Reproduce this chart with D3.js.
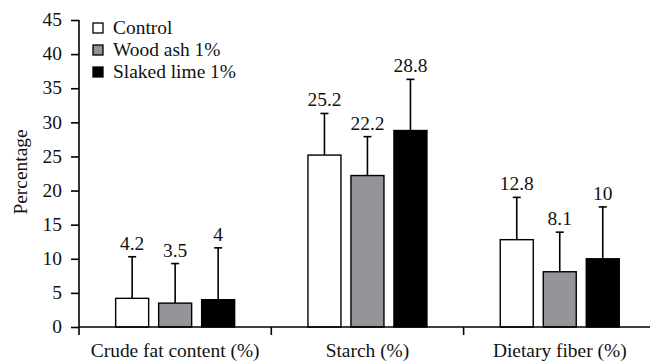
<!DOCTYPE html>
<head>
  <meta charset="utf-8">
  <script src="https://d3js.org/d3.v7.min.js"></script>
  <style>
    body { margin:0; background:#fff; }
  </style>
</head>
<body>
<script>
// values
const categories = ["Crude fat content (%)", "Starch (%)", "Dietary fiber (%)"];
const seriesNames = ["Control", "Wood ash 1%", "Slaked lime 1%"];
const control = [4.2, 25.2, 12.8];
const woodAsh = [3.5, 22.2, 8.1];
const slakedLime = [4, 28.8, 10];
// upper error bars (SD)
const controlErr = [6.1, 6.1, 6.2];
const woodAshErr = [5.8, 5.7, 5.8];
const slakedLimeErr = [7.6, 7.5, 7.6];
const yTicks = [0, 5, 10, 15, 20, 25, 30, 35, 40, 45];

const colors = ["#ffffff", "#939598", "#000000"];
const vals = [control, woodAsh, slakedLime];
const errs = [controlErr, woodAshErr, slakedLimeErr];

const W = 650, H = 362,
    mLeft = 79, mTop = 20, mBottom = 327;
const sx = 1.08; // the original type is a little wide
const FONT = '"Liberation Serif", "Times New Roman", Tinos';

const svg = d3.select("body").append("svg")
    .attr("width", W).attr("height", H);

// put text at (x,y), stretched sideways, with the serif face
function place(sel, fx, fy, extra) {
  sel.attr("transform", (d, i) =>
      `translate(${fx(d, i)},${fy(d, i)})${extra || ""} scale(${sx},1)`)
    .style("font-family", FONT)
    .style("font-size", "18px")
    .attr("fill", "#111");
}

const y = d3.scaleLinear().domain([0, 45]).range([mBottom, mTop]);
const x0 = d3.scaleBand().domain(categories).range([mLeft, mLeft + 3 * 192.3]);
const inner = 119;
const x1 = d3.scaleBand().domain(seriesNames)
    .range([(x0.bandwidth() - inner) / 2, (x0.bandwidth() + inner) / 2])
    .paddingInner(10 / 43);

const data = [];
categories.forEach((c, i) => {
  seriesNames.forEach((s, j) => {
    data.push({cat: c, s: s, v: vals[j][i], e: errs[j][i], col: colors[j]});
  });
});

// error bars first, bars on top
const eb = svg.append("g").selectAll("g").data(data).join("g")
    .attr("transform", d => `translate(${x0(d.cat) + x1(d.s) + x1.bandwidth() / 2},0)`);
eb.append("line")
    .attr("y1", d => y(d.v)).attr("y2", d => y(d.v + d.e))
    .attr("stroke", "#000").attr("stroke-width", 1.6);
eb.append("line")
    .attr("x1", -4).attr("x2", 4)
    .attr("y1", d => y(d.v + d.e)).attr("y2", d => y(d.v + d.e))
    .attr("stroke", "#000").attr("stroke-width", 1.6);
eb.append("text")
    .attr("text-anchor", "middle")
    .call(place, () => 0, d => y(d.v + d.e) - 7)
    .text(d => d.v);

svg.append("g").selectAll("rect").data(data).join("rect")
    .attr("x", d => x0(d.cat) + x1(d.s))
    .attr("y", d => y(d.v))
    .attr("width", x1.bandwidth())
    .attr("height", d => mBottom - y(d.v))
    .attr("fill", d => d.col)
    .attr("stroke", "#000").attr("stroke-width", 1.4);

// y axis
const yAxis = svg.append("g")
    .attr("transform", `translate(${mLeft},0)`)
    .call(d3.axisLeft(y).tickValues(yTicks).tickSize(8).tickPadding(8));
yAxis.select(".domain").remove();
yAxis.selectAll("line").attr("stroke", "#000").attr("stroke-width", 1.6);
yAxis.selectAll("text")
    .attr("x", null).attr("dy", "0.32em")
    .call(place, () => -17, () => 0);
svg.append("line")
    .attr("x1", mLeft).attr("x2", mLeft)
    .attr("y1", mTop).attr("y2", mBottom + 8)
    .attr("stroke", "#000").attr("stroke-width", 1.6);

// x axis
svg.append("line")
    .attr("x1", mLeft).attr("x2", W)
    .attr("y1", mBottom).attr("y2", mBottom)
    .attr("stroke", "#000").attr("stroke-width", 1.6);
svg.append("g").selectAll("line").data(categories.slice(1)).join("line")
    .attr("x1", d => x0(d)).attr("x2", d => x0(d))
    .attr("y1", mBottom).attr("y2", mBottom + 8)
    .attr("stroke", "#000").attr("stroke-width", 1.6);
svg.append("g").selectAll("text").data(categories).join("text")
    .attr("text-anchor", "middle")
    .call(place, d => x0(d) + x0.bandwidth() / 2, () => 357)
    .text(d => d);

svg.append("text")
    .datum("Percentage")
    .attr("text-anchor", "middle")
    .call(place, () => 27, () => 172, " rotate(-90)")
    .text(d => d);

// legend
const lg = svg.append("g").selectAll("g").data(seriesNames).join("g")
    .attr("transform", (d, i) => `translate(93,${23 + i * 22})`);
lg.append("rect")
    .attr("width", 10).attr("height", 10)
    .attr("fill", (d, i) => colors[i])
    .attr("stroke", "#000").attr("stroke-width", 1.3);
lg.append("text")
    .call(place, () => 20, () => 11)
    .text(d => d);
</script>
</body>
